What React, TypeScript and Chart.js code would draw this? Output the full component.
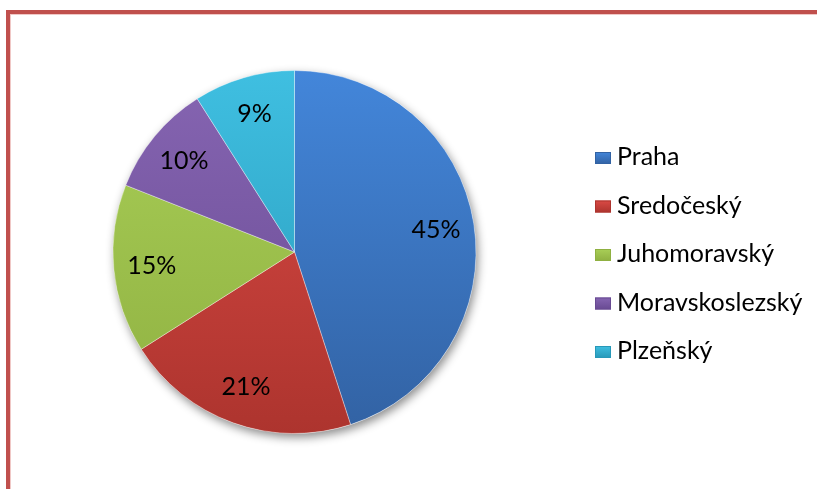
import React, { useEffect, useRef } from "react";
import { Chart, registerables } from "chart.js";

Chart.register(...registerables);

const labels = ["Praha", "Sredočeský", "Juhomoravský", "Moravskoslezský", "Plzeňský"];
const values = [45, 21, 15, 10, 9];
const topColors = ["#4386da", "#da4a45", "#a9cf57", "#8665b2", "#3fbfe1"];
const bottomColors = ["#3262a3", "#ad342e", "#8fb041", "#684a92", "#2898b8"];
const legendColors = ["#3f74bf", "#c8403b", "#9fc14d", "#7858a3", "#34acd0"];

const FONT = "Lato, 'Open Sans', sans-serif";
const FONT_SIZE = 25;

const shadowPlugin = {
  id: "pieShadow",
  beforeDatasetsDraw(chart: any) {
    const arc = chart.getDatasetMeta(0).data[0];
    if (!arc) return;
    const { x, y, outerRadius } = arc.getProps(["x", "y", "outerRadius"], true);
    const ctx = chart.ctx;
    ctx.save();
    ctx.shadowColor = "rgba(0,0,0,0.45)";
    ctx.shadowBlur = 10;
    ctx.shadowOffsetX = 2;
    ctx.shadowOffsetY = 4;
    ctx.fillStyle = "#ffffff";
    ctx.beginPath();
    ctx.arc(x, y, outerRadius, 0, Math.PI * 2);
    ctx.fill();
    ctx.restore();
  },
};

const labelPlugin = {
  id: "pctLabels",
  afterDatasetsDraw(chart: any) {
    const meta = chart.getDatasetMeta(0);
    const data = chart.data.datasets[0].data as number[];
    const total = data.reduce((a, b) => a + b, 0);
    const ctx = chart.ctx;
    ctx.save();
    ctx.font = `${FONT_SIZE}px ${FONT}`;
    ctx.fillStyle = "#000000";
    ctx.textAlign = "center";
    ctx.textBaseline = "middle";
    meta.data.forEach((el: any, i: number) => {
      const { x, y, startAngle, endAngle, outerRadius } = el.getProps(
        ["x", "y", "startAngle", "endAngle", "outerRadius"],
        true
      );
      const mid = (startAngle + endAngle) / 2;
      const r = outerRadius * 0.79;
      const txt = Math.round((data[i] / total) * 100) + "%";
      ctx.fillText(txt, x + Math.cos(mid) * r, y + Math.sin(mid) * r);
    });
    ctx.restore();
  },
};

const legendPlugin = {
  id: "sideLegend",
  afterDraw(chart: any) {
    const ctx = chart.ctx;
    const startX = 595;
    const startY = 157;
    const step = 48.5;
    const bw = 16;
    const bh = 12;
    ctx.save();
    ctx.font = `${FONT_SIZE}px ${FONT}`;
    ctx.textAlign = "left";
    ctx.textBaseline = "middle";
    chart.data.labels.forEach((lab: string, i: number) => {
      const cy = startY + i * step;
      const bx = startX;
      const by = cy - bh / 2 + 1;
      const g = ctx.createLinearGradient(0, by, 0, by + bh);
      g.addColorStop(0, topColors[i]);
      g.addColorStop(1, bottomColors[i]);
      ctx.fillStyle = g;
      ctx.fillRect(bx, by, bw, bh);
      ctx.strokeStyle = bottomColors[i];
      ctx.lineWidth = 1;
      ctx.strokeRect(bx + 0.5, by + 0.5, bw - 1, bh - 1);
      ctx.fillStyle = "#000000";
      ctx.fillText(lab, startX + 22, cy);
    });
    ctx.restore();
  },
};

export default function App() {
  const canvasRef = useRef<HTMLCanvasElement | null>(null);

  useEffect(() => {
    const canvas = canvasRef.current;
    if (!canvas) return;
    const chart = new Chart(canvas, {
      type: "pie",
      data: {
        labels,
        datasets: [
          {
            data: values,
            backgroundColor: (c: any) => {
              const area = c.chart.chartArea;
              const i = c.dataIndex;
              if (!area) return legendColors[i];
              const g = c.chart.ctx.createLinearGradient(0, area.top, 0, area.bottom);
              g.addColorStop(0, topColors[i]);
              g.addColorStop(1, bottomColors[i]);
              return g;
            },
            borderColor: "rgba(255,255,255,0.35)",
            borderWidth: 1,
          },
        ],
      },
      options: {
        responsive: false,
        animation: false,
        devicePixelRatio: 1,
        layout: { padding: { left: 112.5, top: 70, right: 340.5, bottom: 55 } },
        plugins: {
          legend: { display: false },
          tooltip: { enabled: false },
        },
      },
      plugins: [shadowPlugin, labelPlugin, legendPlugin],
    });
    return () => chart.destroy();
  }, []);

  return (
    <div style={{ position: "fixed", left: 0, top: 0, width: 817, height: 489, background: "#ffffff", overflow: "hidden" }}>
      <canvas ref={canvasRef} width={817} height={489} style={{ display: "block", width: 817, height: 489 }} />
      <div
        style={{
          position: "absolute",
          left: 6,
          top: 10,
          right: 0,
          bottom: 0,
          borderTop: "4px solid #c0504d",
          borderLeft: "4px solid #c0504d",
          pointerEvents: "none",
        }}
      />
      <div
        style={{
          position: "absolute",
          left: 10,
          top: 14,
          right: 0,
          bottom: 0,
          borderTop: "1px solid #f0c8c6",
          borderLeft: "1px solid #f0c8c6",
          pointerEvents: "none",
        }}
      />
    </div>
  );
}
